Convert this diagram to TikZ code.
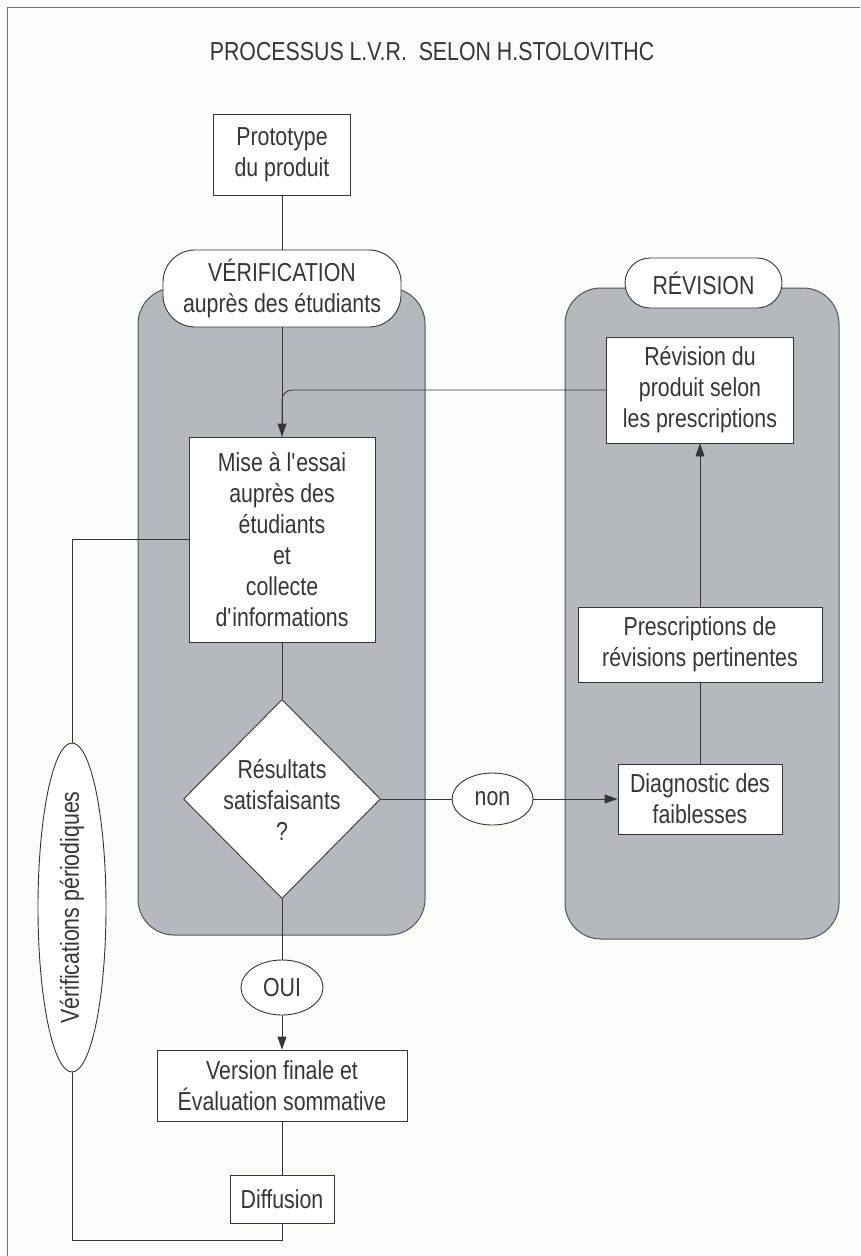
\documentclass[tikz,border=0pt]{standalone}
\usepackage{fontspec}
\setmainfont{Liberation Sans}[FakeStretch=0.82]
\usetikzlibrary{arrows.meta,shapes.geometric}
\definecolor{ink}{HTML}{363636}
\definecolor{panel}{HTML}{B5B8BC}
\definecolor{paper}{HTML}{FCFCFB}

\begin{document}
\begin{tikzpicture}[x=1pt,y=-1pt,
  font=\fontsize{26}{31}\selectfont, text=ink,
  every node/.style={inner sep=0pt, align=center},
  boxnode/.style={draw=ink, fill=white, line width=0.9pt},
  panelbox/.style={draw=ink!85, fill=panel, line width=1pt, rounded corners=36pt},
  tag/.style={draw=ink, fill=white, line width=0.9pt},
  oval/.style={ellipse, draw=ink, fill=white, line width=0.9pt},
  link/.style={draw=ink, line width=0.9pt},
  arrow/.style={link, -{Triangle[length=13pt,width=9pt]}}]

% page and frame
\fill[paper] (0,0) rectangle (860,1256);
\useasboundingbox (0,0) rectangle (860,1256);
\draw[draw=ink!70, line width=1pt] (7,1256) -- (7,7) -- (860,7);

% title
\node (title) at (432,52) {PROCESSUS L.V.R.\ \ SELON H.STOLOVITHC};

% grey phase panels
\node[panelbox, minimum width=287pt, minimum height=647pt] (leftpanel) at (281.5,611.5) {};
\node[panelbox, minimum width=274pt, minimum height=651pt] (rightpanel) at (702,613.5) {};

% phase labels
\node[tag, rounded corners=32pt, minimum width=238pt, minimum height=77pt] (verif) at (282,288.5)
  {VÉRIFICATION\\auprès des étudiants};
\node[tag, rounded corners=25pt, minimum width=157pt, minimum height=50pt] (revlabel) at (703.5,283)
  {RÉVISION};

% main column
\node[boxnode, minimum width=137pt, minimum height=81pt] (proto) at (282,154.5)
  {Prototype\\du produit};
\node[boxnode, minimum width=186pt, minimum height=205pt] (mise) at (282,539.5)
  {Mise à l\textquotesingle essai\\auprès des\\étudiants\\et\\collecte\\d\textquotesingle informations};
\node[diamond, draw=ink, fill=white, line width=0.9pt, minimum width=197pt, minimum height=199pt] (dia) at (282,799) {};
\node (diatext) at (282,800) {Résultats\\satisfaisants\\?};
\node[oval, minimum width=82pt, minimum height=55pt] (oui) at (282,987.5) {OUI};
\node[boxnode, minimum width=250pt, minimum height=71pt] (version) at (282,1085.5)
  {Version finale et\\Évaluation sommative};
\node[boxnode, minimum width=104pt, minimum height=48pt] (diff) at (282,1199) {Diffusion};

% revision column
\node[oval, minimum width=81pt, minimum height=52pt] (non) at (492.5,799) {non};
\node[boxnode, minimum width=164pt, minimum height=70pt] (diag) at (700,799)
  {Diagnostic des\\faiblesses};
\node[boxnode, minimum width=244pt, minimum height=75pt] (presc) at (700,644.5)
  {Prescriptions de\\révisions pertinentes};
\node[boxnode, minimum width=187pt, minimum height=106pt] (revbox) at (700,390)
  {Révision du\\produit selon\\les prescriptions};

% periodic checks loop
\node[oval, minimum width=68pt, minimum height=329pt] (peri) at (72,907.5) {};
\node[rotate=90] (peritext) at (72,907.5) {Vérifications périodiques};
\coordinate (loopB) at (282,1240);

% connectors
\draw[link] (proto) -- (verif);
\draw[link, rounded corners=10pt] (revbox.west) -| (mise.north);
\draw[arrow] (verif) -- (mise);
\draw[link] (mise) -- (dia);
\draw[link] (dia) -- (non);
\draw[arrow] (non) -- (diag);
\draw[link] (diag) -- (presc);
\draw[arrow] (presc) -- (revbox);
\draw[link] (dia) -- (oui);
\draw[arrow] (oui) -- (version);
\draw[link] (version) -- (diff);
\draw[link] (diff.south) -- (loopB) -| (peri.south);
\draw[link] (peri.north) |- (mise.west);
\end{tikzpicture}
\end{document}
